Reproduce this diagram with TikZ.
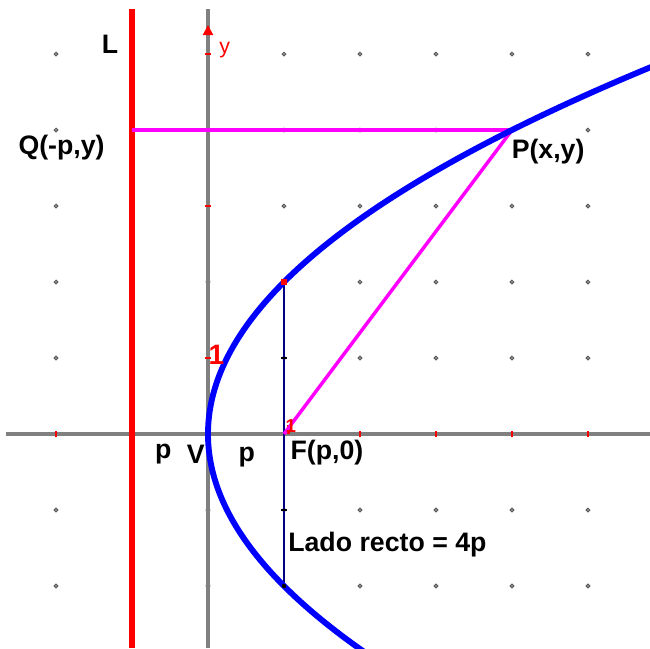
\documentclass[tikz,border=0pt]{standalone}
\usepackage{fontspec}
\setmainfont{Liberation Sans}
\usetikzlibrary{arrows.meta}
\definecolor{mag}{RGB}{255,0,255}
\definecolor{pblue}{RGB}{0,0,255}
\definecolor{pred}{RGB}{255,0,0}
\definecolor{axgray}{RGB}{128,128,128}
\definecolor{navy}{RGB}{0,0,128}
\begin{document}
\begin{tikzpicture}[x=1cm,y=1cm,
  lbl/.style={font=\bfseries\fontsize{10}{12}\selectfont, text=black, inner sep=0pt},
  redlbl/.style={font=\bfseries\fontsize{10.5}{12}\selectfont, text=pred, inner sep=0pt},
  axis/.style={draw=axgray, line width=1.5pt},
  gdot/.style={draw=black!65, line width=0.45pt},
  rtick/.style={draw=pred, line width=0.6pt}
]
\useasboundingbox[fill=white] (-2.737,-2.816) rectangle (5.816,5.711);
\begin{scope}
\clip (-2.737,-2.816) rectangle (5.816,5.711);
% grid dots
\foreach \i in {-2,...,5}{
  \foreach \j in {-2,...,5}{
    \draw[gdot] (\i,\j+0.022) -- (\i+0.022,\j) -- (\i,\j-0.022) -- (\i-0.022,\j) -- cycle;
  }
}
% axes
\coordinate (xa) at (-2.66,0);
\coordinate (xb) at (5.816,0);
\coordinate (ya) at (0,-2.816);
\coordinate (yb) at (0,5.59);
\draw[axis] (xa) -- (xb);
\draw[axis] (ya) -- (yb);
% ticks
\foreach \i in {-2,2,3,4,5}{ \draw[rtick] (\i,-0.045) -- (\i,0.045); }
\draw[pred, line width=1pt] (1.06,0) -- (1.06,0.12);
\foreach \j in {1,3,4,5}{ \draw[rtick] (-0.045,\j) -- (0.045,\j); }
\fill[pred] (-0.07,5.25) -- (0.07,5.25) -- (0,5.38) -- cycle;
% directrix
\coordinate (da) at (-1,-2.816);
\coordinate (db) at (-1,5.59);
\draw[pred, line width=1.9pt] (da) -- (db);
% latus rectum
\coordinate (lr1) at (1,2);
\coordinate (lr2) at (1,-2);
\draw[navy, line width=0.55pt] (lr1) -- (lr2);
\foreach \j in {-1,1}{ \draw[black, line width=0.5pt] (0.96,\j) -- (1.04,\j); }
% points
\coordinate (P) at (4,4);
\coordinate (Qp) at (-1,4);
\coordinate (F) at (1,0);
% magenta
\draw[mag, line width=1.6pt] (Qp) -- (P);
\draw[mag, line width=1.3pt] (F) -- (P);
% parabola
\draw[pblue, line width=2.2pt, domain=-2.9:4.9, samples=120, smooth] plot ({\x*\x/4},{\x});
\fill[pred] (0.96,1.96) rectangle (1.04,2.04);
\fill[black] (1,-2) circle (0.03);
\end{scope}
% labels
\node[lbl] (Ltxt) at (-1.29,5.13) {L};
\node[font=\fontsize{8}{9}\selectfont, text=pred, inner sep=0pt] (ytxt) at (0.22,5.05) {y};
\node[lbl, anchor=west] (Qtxt) at (-2.5,3.77) {Q(-p,y)};
\node[lbl, anchor=west] (Ptxt) at (3.99,3.72) {P(x,y)};
\node[redlbl] (one) at (0.11,1.04) {1};
\node[font=\bfseries\fontsize{7}{8}\selectfont, text=pred, inner sep=0pt] (onef) at (1.09,0.1) {1};
\node[lbl] (p1) at (-0.59,-0.27) {p};
\node[lbl] (Vt) at (-0.16,-0.27) {V};
\node[lbl] (p2) at (0.51,-0.3) {p};
\node[lbl, anchor=west] (Ft) at (1.08,-0.24) {F(p,0)};
\node[lbl, anchor=west] (LR) at (1.05,-1.46) {Lado recto = 4p};
\end{tikzpicture}
\end{document}
